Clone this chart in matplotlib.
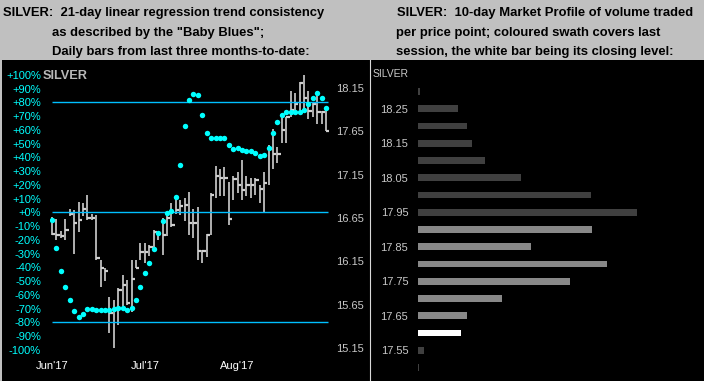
import matplotlib
matplotlib.use("Agg")
import matplotlib.pyplot as plt
from matplotlib.patches import Rectangle
from matplotlib.lines import Line2D
import numpy as np

plt.rcParams['font.family'] = ['Liberation Sans', 'DejaVu Sans']

# ---------------- data ----------------
# Daily bars (trading-day index 0 = 1 Jun 2017)
bar_high = [16.66, 16.64, 16.50, 16.64, 16.76, 16.74, 16.83, 16.82, 16.91, 16.70,
            16.68, 16.17, 16.07, 15.74, 15.70, 15.84, 15.99, 15.94, 16.17, 16.17,
            16.36, 16.36, 16.34, 16.51, 16.49, 16.65, 16.70, 16.82, 16.88, 16.86,
            16.88, 16.95, 16.75, 16.78, 16.28, 16.47, 16.94, 17.25, 17.22, 17.24,
            17.07, 17.13, 17.18, 17.32, 17.13, 17.11, 17.11, 17.03, 17.18, 17.49,
            17.68, 17.47, 17.82, 17.82, 18.11, 18.09, 18.22, 18.30, 18.11, 17.99,
            18.12, 17.88, 17.91]
bar_low = [16.45, 16.40, 16.42, 16.40, 16.67, 16.24, 16.49, 16.67, 16.63, 16.63,
           16.17, 15.86, 15.92, 15.32, 15.15, 15.42, 15.63, 15.65, 15.57, 16.07,
           16.17, 16.13, 16.21, 16.30, 16.40, 16.22, 16.44, 16.55, 16.70, 16.68,
           16.62, 16.46, 16.42, 16.17, 16.13, 16.20, 16.45, 16.88, 16.90, 16.90,
           16.57, 16.86, 16.94, 16.86, 16.90, 16.88, 16.92, 16.82, 16.72, 17.03,
           17.21, 17.28, 17.51, 17.51, 17.82, 17.86, 17.90, 17.88, 17.79, 17.82,
           17.73, 17.73, 17.65]
bar_close = [16.47, 16.45, 16.44, 16.51, 16.70, 16.59, 16.63, 16.76, 16.65, 16.65,
             16.19, 16.07, 16.04, 15.55, 15.61, 15.82, 15.88, 15.67, 15.95, 16.07,
             16.26, 16.26, 16.32, 16.49, 16.47, 16.45, 16.65, 16.57, 16.74, 16.79,
             16.80, 16.59, 16.59, 16.27, 16.27, 16.45, 16.92, 17.13, 17.11, 17.11,
             16.64, 17.10, 17.03, 16.97, 17.03, 17.03, 17.09, 16.99, 17.05, 17.45,
             17.39, 17.39, 17.66, 17.81, 17.90, 17.97, 18.21, 18.04, 17.89, 17.97,
             17.87, 17.87, 17.65]
# "Baby Blues" trend consistency (%)
consistency = [-5.6, -25.7, -42.4, -54.0, -64.0, -71.5, -76.0, -73.7, -70.0, -70.0,
               -70.8, -70.8, -70.8, -70.8, -70.0, -69.4, -69.4, -70.8, -69.4, -63.5,
               -54.0, -44.4, -36.6, -26.7, -14.8, -6.0, -0.3, 1.2, 10.9, 34.6,
               63.0, 81.7, 86.3, 85.5, 71.0, 57.9, 54.3, 54.3, 54.3, 54.3,
               49.2, 46.3, 47.0, 45.5, 44.8, 44.8, 43.4, 41.2, 41.9, 47.0,
               57.9, 66.0, 71.0, 73.2, 73.2, 73.2, 73.2, 74.6, 79.0, 83.4,
               87.1, 83.4, 75.7]
month_labels = ["Jun'17", "Jul'17", "Aug'17"]
month_pos = [0, 21, 42]
pct_ticks = [100, 90, 80, 70, 60, 50, 40, 30, 20, 10, 0,
             -10, -20, -30, -40, -50, -60, -70, -80, -90, -100]
price_ticks = [18.15, 17.65, 17.15, 16.65, 16.15, 15.65, 15.15]
ref_levels = [80, 0, -80]

# Market profile
mp_levels = [18.30, 18.25, 18.20, 18.15, 18.10, 18.05, 18.00, 17.95, 17.90,
             17.85, 17.80, 17.75, 17.70, 17.65, 17.60, 17.55, 17.50]
mp_volume = [2, 39.7, 48.7, 53.7, 66.7, 102.7, 172.7, 219, 174,
             113, 189, 151.7, 83.7, 48.7, 43, 6, 1]
mp_kind = ['old'] * 8 + ['last'] * 6 + ['close'] + ['old'] * 2
mp_ticks = [18.25, 18.15, 18.05, 17.95, 17.85, 17.75, 17.65, 17.55]

# ---------------- figure ----------------
W, H = 704, 381
fig = plt.figure(figsize=(W / 100, H / 100), dpi=100, facecolor='#c0c0c0')

def fx(x):
    return x / W

def fy(y):
    return 1 - y / H

fig.add_artist(Rectangle((fx(1.5), 0), 1, fy(60), transform=fig.transFigure,
                         facecolor='black', edgecolor='none', zorder=0))
fig.add_artist(Line2D([fx(369.5)] * 2, [0, fy(60)], transform=fig.transFigure,
                      color='#d8d8d8', lw=0.8, zorder=1))

# titles
tkw = dict(fontsize=9.4, fontweight='bold', color='black', va='center', ha='left')
fig.text(fx(3.3), fy(12.7), 'SILVER:  21-day linear regression trend consistency', **tkw)
fig.text(fx(51.7), fy(32.7), 'as described by the "Baby Blues";', **tkw)
fig.text(fx(51.7), fy(51.7), 'Daily bars from last three months-to-date:', **tkw)
fig.text(fx(396.7), fy(12.7), 'SILVER:  10-day Market Profile of volume traded', **tkw)
fig.text(fx(396.3), fy(32.7), 'per price point; coloured swath covers last', **tkw)
fig.text(fx(396.3), fy(51.7), 'session, the white bar being its closing level:', **tkw)

# ---------------- left panel ----------------
L, R, T, B = 50, 331, 60, 357
ax = fig.add_axes([fx(L), fy(B), (R - L) / W, (B - T) / H])
ax.set_facecolor('none')
x0, dx = 52.0, 4.42
ax.set_xlim((L - x0) / dx, (R - x0) / dx)
ax.set_ylim(15.047, 18.473)
idx = np.arange(len(bar_close))
ax.vlines(idx, bar_low, bar_high, color='#cfcfcf', lw=1.2, zorder=2)
ax.hlines(bar_close, idx, idx + 0.75, color='#cfcfcf', lw=1.6, zorder=2)
ax.set_xticks(month_pos)
ax.set_xticklabels(month_labels)
ax.tick_params(axis='x', length=0, pad=3.2, labelsize=8, labelcolor='white')
for s in ax.spines.values():
    s.set_visible(False)

axp = ax.twinx()
axp.set_facecolor('none')
axp.set_ylim(-105.24, 110.76)
axp.yaxis.tick_left()
axp.yaxis.set_label_position('left')
axp.set_yticks(pct_ticks)
axp.set_yticklabels([(f'+{v}%' if v >= 0 else f'{v}%') for v in pct_ticks])
axp.tick_params(axis='y', which='both', left=True, right=False, labelleft=True,
                labelright=False, length=0, pad=6.5, labelsize=8, labelcolor='#00ffff')
for s in axp.spines.values():
    s.set_visible(False)

ax.yaxis.tick_right()
ax.set_yticks(price_ticks)
ax.set_yticklabels([f'{p:.2f}' for p in price_ticks])
ax.tick_params(axis='y', which='both', left=False, right=True, labelleft=False,
               labelright=True, length=0, pad=3.6, labelsize=8, labelcolor='#c8c8c8')

axp.hlines(ref_levels, -0.05, 62.35, color='#00bfff', lw=1.0, zorder=3)
axp.plot(idx, consistency, 'o', color='#00ffff', ms=3.9, mew=0, zorder=4)
fig.text(fx(42.7), fy(76), 'SILVER', fontsize=9.2, fontweight='bold',
         color='#b8b8b8', va='center', ha='left')

# ---------------- right panel ----------------
RL, RR = 418, 700
axm = fig.add_axes([fx(RL), 0, (RR - RL) / W, fy(60)])
axm.set_facecolor('none')
axm.set_xlim(0, RR - RL)
axm.set_ylim(17.461, 18.3914)
cmap = {'old': '#404040', 'last': '#888888', 'close': '#ffffff'}
axm.barh(mp_levels, mp_volume, height=0.02, left=0,
         color=[cmap[k] for k in mp_kind], edgecolor='none')
axm.set_yticks(mp_ticks)
axm.set_yticklabels([f'{p:.2f}' for p in mp_ticks])
axm.tick_params(axis='y', length=0, pad=7, labelsize=8, labelcolor='#c8c8c8')
axm.set_xticks([])
for s in axm.spines.values():
    s.set_visible(False)
fig.text(fx(372.3), fy(74.3), 'SILVER', fontsize=7.5, color='#c8c8c8',
         va='center', ha='left')

fig.savefig('out.png', dpi=100, facecolor=fig.get_facecolor())
